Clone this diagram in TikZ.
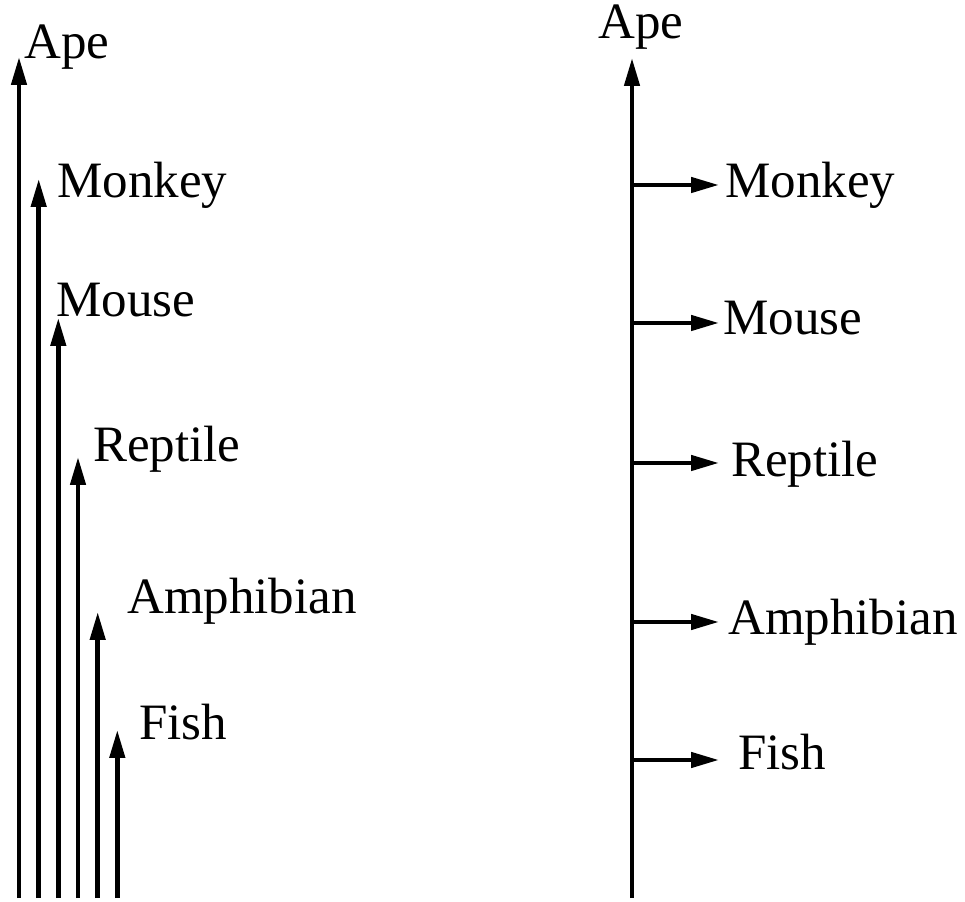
\documentclass[tikz,border=0pt]{standalone}
\usepackage{fontspec}
\setmainfont{Liberation Serif}
\usetikzlibrary{arrows.meta}

\tikzset{
  taxon/.style={anchor=base west,inner sep=0pt,font=\fontsize{51}{61}\selectfont},
}

\begin{document}
\begin{tikzpicture}[x=1pt,y=1pt,line width=4.5pt,>={Triangle[length=28pt,width=15pt]}]
    \useasboundingbox (0,0) rectangle (965,901);
    % left: one arrow per group
    \coordinate (apeL) at (19,844);
    \coordinate (monkeyL) at (38.7,722);
    \coordinate (mouseL) at (58.3,583);
    \coordinate (reptileL) at (78,444);
    \coordinate (amphL) at (97.7,289);
    \coordinate (fishL) at (117.3,171);
    \draw[->] (apeL |- 0,3) -- (apeL);
    \draw[->] (monkeyL |- 0,3) -- (monkeyL);
    \draw[->] (mouseL |- 0,3) -- (mouseL);
    \draw[->] (reptileL |- 0,3) -- (reptileL);
    \draw[->] (amphL |- 0,3) -- (amphL);
    \draw[->] (fishL |- 0,3) -- (fishL);
    \node[taxon] (tApeL) at (22,842) {Ape};
    \node[taxon] (tMonkeyL) at (55,703) {Monkey};
    \node[taxon] (tMouseL) at (54,584) {Mouse};
    \node[taxon] (tReptileL) at (91,439) {Reptile};
    \node[taxon] (tAmphL) at (125,287) {Amphibian};
    \node[taxon] (tFishL) at (137,161) {Fish};
    % right: a single trunk with branches
    \coordinate (base) at (632,3);
    \coordinate (apeR) at (632,843);
    \draw[->] (base) -- (apeR);
    \node[taxon] (tApeR) at (596,862) {Ape};
    \coordinate (monkeyR) at (632,716);
    \coordinate (mouseR) at (632,578);
    \coordinate (reptileR) at (632,438);
    \coordinate (amphR) at (632,279);
    \coordinate (fishR) at (632,141);
    \draw[->] (monkeyR) -- ++(87,0);
    \draw[->] (mouseR) -- ++(87,0);
    \draw[->] (reptileR) -- ++(87,0);
    \draw[->] (amphR) -- ++(87,0);
    \draw[->] (fishR) -- ++(87,0);
    \node[taxon] (tMonkeyR) at (723,703) {Monkey};
    \node[taxon] (tMouseR) at (721,566) {Mouse};
    \node[taxon] (tReptileR) at (729,424) {Reptile};
    \node[taxon] (tAmphR) at (726,266) {Amphibian};
    \node[taxon] (tFishR) at (736,131) {Fish};
\end{tikzpicture}
\end{document}
